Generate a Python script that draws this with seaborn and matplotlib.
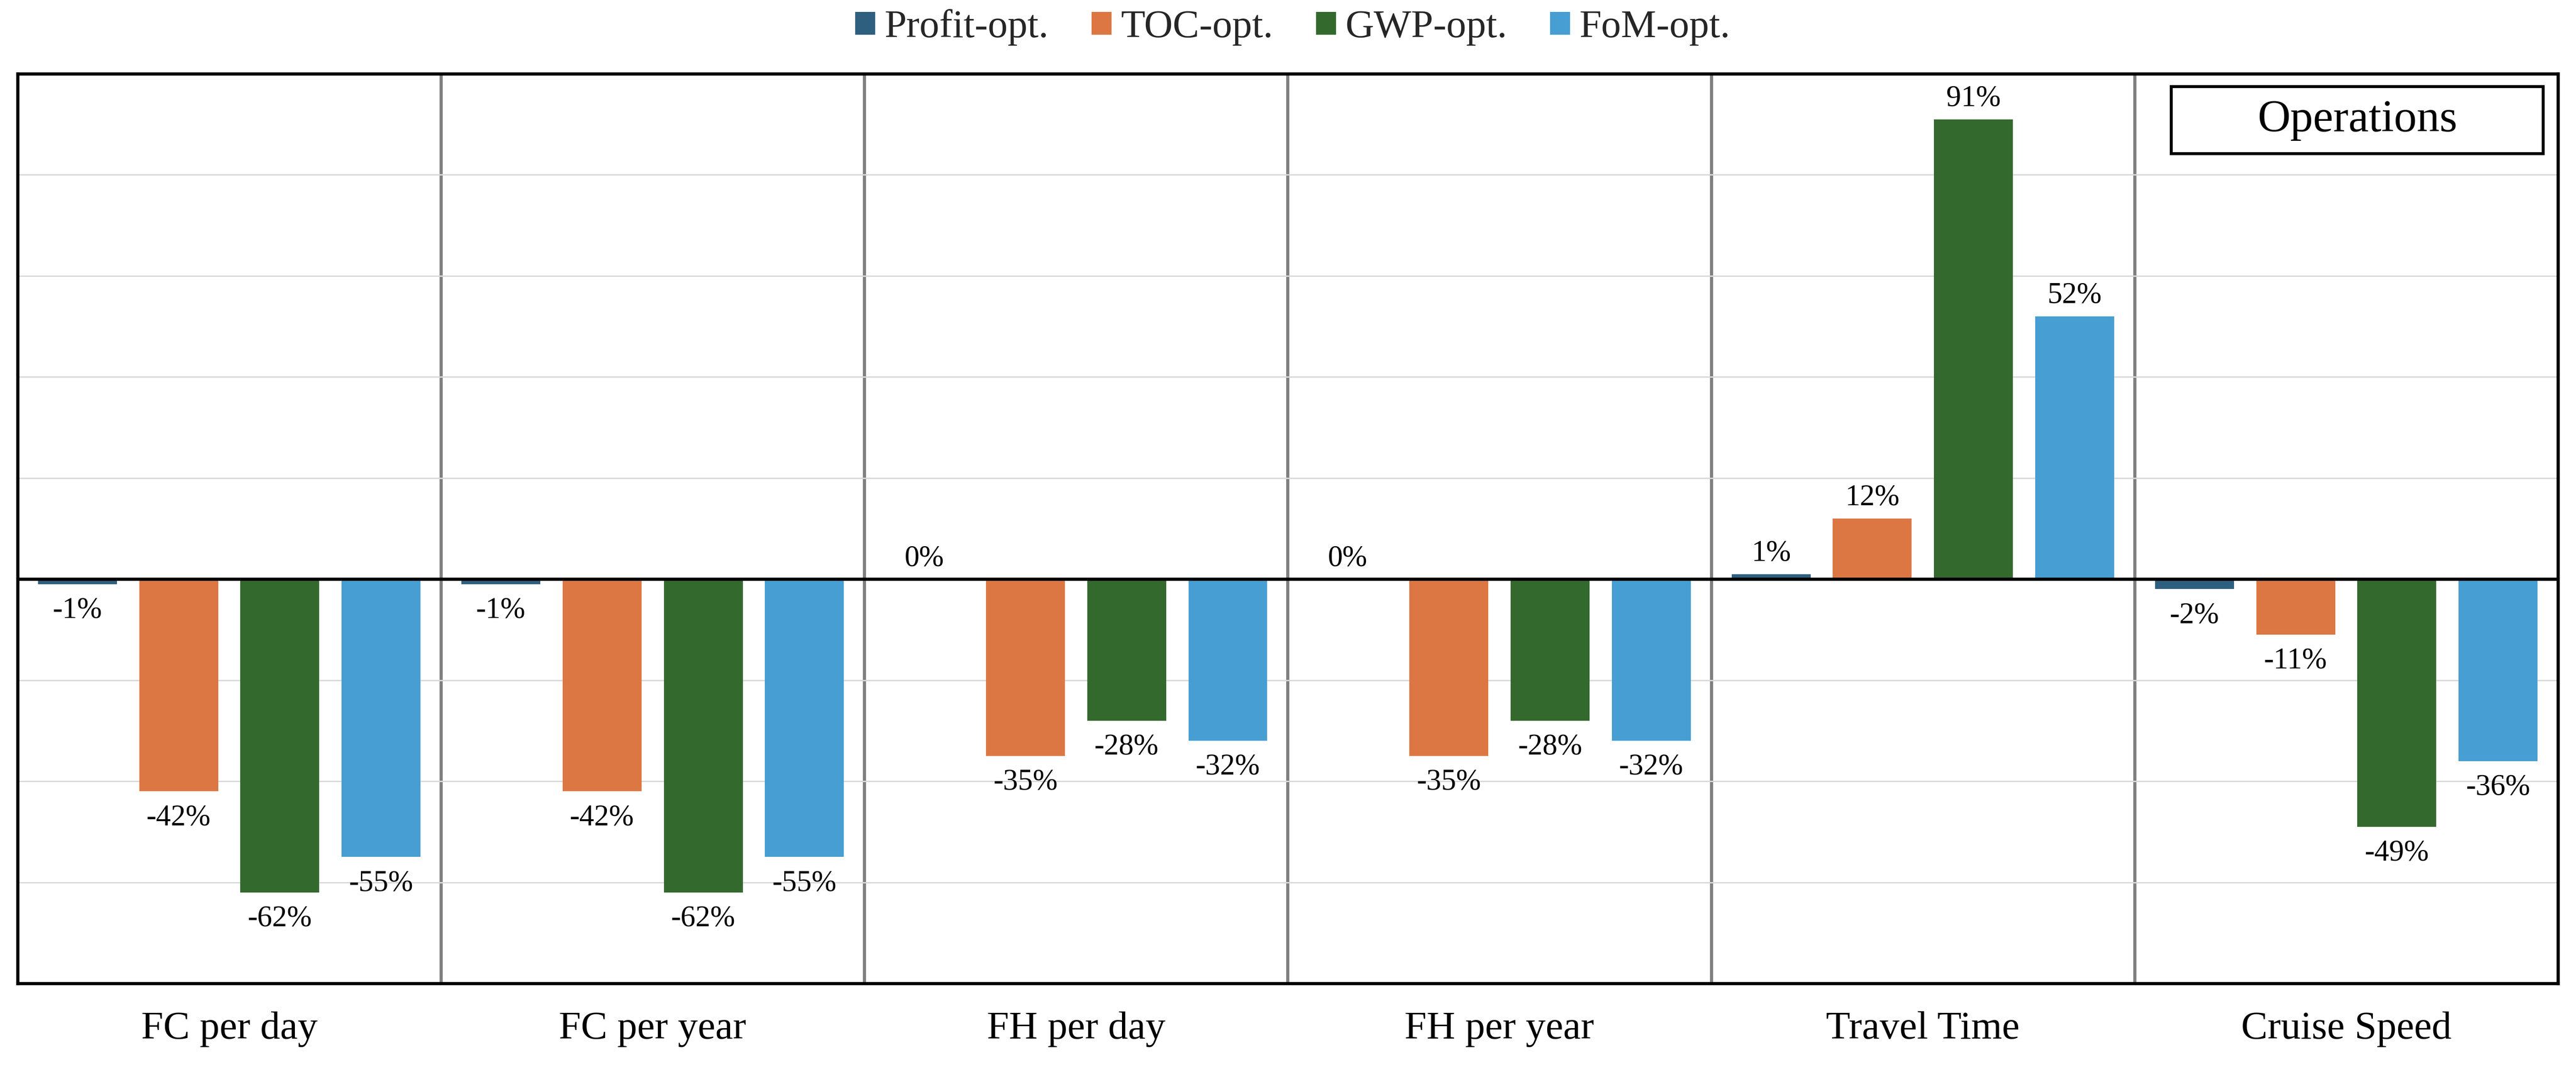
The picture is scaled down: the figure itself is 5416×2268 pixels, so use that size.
import numpy as np
import pandas as pd
import seaborn as sns
import matplotlib.pyplot as plt
from matplotlib.patches import Rectangle

# data (% change)
metrics = ["FC per day", "FC per year", "FH per day", "FH per year", "Travel Time", "Cruise Speed"]
strategies = ["Profit-opt.", "TOC-opt.", "GWP-opt.", "FoM-opt."]
profit_opt = [-1, -1, 0, 0, 1, -2]
toc_opt = [-42, -42, -35, -35, 12, -11]
gwp_opt = [-62, -62, -28, -28, 91, -49]
fom_opt = [-55, -55, -32, -32, 52, -36]
colors = ["#2E5F7F", "#DC7744", "#34692E", "#469ED2"]
y_ticks = list(range(-80, 101, 20))
panel_title = "Operations"

df = pd.DataFrame({
    "metric": metrics * len(strategies),
    "strategy": np.repeat(strategies, len(metrics)),
    "value": profit_opt + toc_opt + gwp_opt + fom_opt,
})

sns.set_theme(style="white")
plt.rcParams["font.family"] = ["Liberation Serif", "DejaVu Serif"]

fig, ax = plt.subplots(figsize=(5416 / 300, 2268 / 300), dpi=300)
fig.subplots_adjust(left=0.0068, right=0.993, top=0.9317, bottom=0.0886)

sns.barplot(data=df, x="metric", y="value", hue="strategy", order=metrics,
            hue_order=strategies, palette=colors, saturation=1,
            width=0.956, gap=0.22, linewidth=0, ax=ax)

ax.set_ylim(y_ticks[0], y_ticks[-1])
ax.set_yticks(y_ticks)
ax.tick_params(axis="y", length=0, labelleft=False)
ax.tick_params(axis="x", length=0, pad=14, labelsize=20, labelcolor="black")
ax.set_xlabel("")
ax.set_ylabel("")

# group separators + light horizontal grid
ax.set_xticks(np.arange(len(metrics) - 1) + 0.5, minor=True)
ax.grid(axis="y", which="major", color="#d9d9d9", lw=0.7)
ax.grid(axis="x", which="minor", color="#7f7f7f", lw=1.6)
ax.grid(axis="x", which="major", visible=False)
ax.set_axisbelow(True)
ax.axhline(0, color="black", lw=1.6, zorder=3)

for s in ax.spines.values():
    s.set_color("black")
    s.set_linewidth(1.6)
    s.set_visible(True)

# value labels
for cont in ax.containers:
    for bar in cont:
        h = bar.get_height()
        x = bar.get_x() + bar.get_width() / 2
        ax.annotate(f"{h:.0f}%", (x, h), xytext=(0, 6.7 if h >= 0 else -17),
                    textcoords="offset points", ha="center", va="baseline",
                    fontsize=15, color="black")

# panel title box
ax.add_patch(Rectangle((0.8478, 0.9121), 0.1464, 0.0737, transform=ax.transAxes,
                       facecolor="white", edgecolor="black", lw=1.5, zorder=5))
ax.text(0.921, 0.949, panel_title, transform=ax.transAxes, ha="center", va="center",
        fontsize=23, color="black", zorder=6)

sns.move_legend(ax, "center", bbox_to_anchor=(0.502, 1.0507), ncol=4, frameon=False,
                title=None, fontsize=20, handlelength=0.5, handleheight=0.5,
                handletextpad=0.24, columnspacing=1.08)

fig.savefig("out.png", dpi=300)
